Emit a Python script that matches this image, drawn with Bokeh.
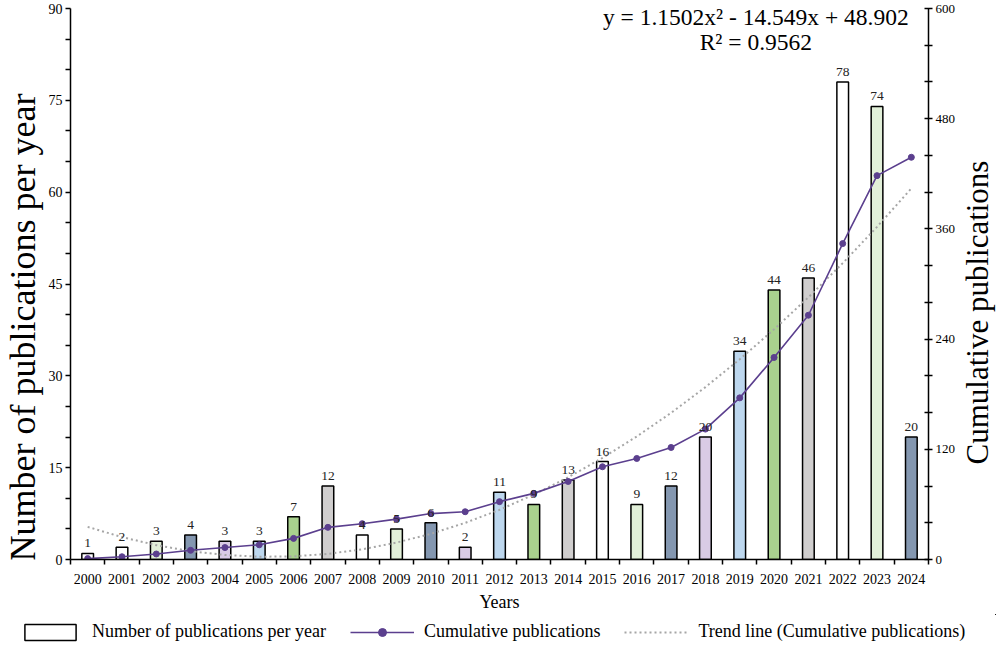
import math
from bokeh.plotting import figure
from bokeh.layouts import row
from bokeh.models import (ColumnDataSource, Range1d, LinearAxis, FixedTicker, Label,
                          Legend, LegendItem, LabelSet)
from bokeh.embed import file_html
from bokeh.resources import INLINE

# ---------------- data ----------------
years = list(range(2000, 2025))
pubs = [1, 2, 3, 4, 3, 3, 7, 12, 4, 5, 6, 2, 11, 9, 13, 16, 9, 12, 20, 34, 44, 46, 78, 74, 20]
cumulative = [1, 3, 6, 10, 13, 16, 23, 35, 39, 44, 50, 52, 63, 72, 85, 101, 110, 122, 142,
              176, 220, 266, 344, 418, 438]
trend = [35.5, 24.4, 15.6, 9.1, 4.9, 3.0, 3.4, 6.1, 11.1, 18.4, 28.0, 39.9, 54.1, 70.7,
         89.5, 110.6, 134.0, 159.7, 187.7, 218.0, 250.6, 285.5, 322.7, 362.2, 404.1]
left_ticks = [0, 15, 30, 45, 60, 75, 90]
left_minor = [5, 10, 20, 25, 35, 40, 50, 55, 65, 70, 80, 85]
right_ticks = [0, 120, 240, 360, 480, 600]
right_minor = [40, 80, 160, 200, 280, 320, 400, 440, 520, 560]
left_title = "Number of publications per year"
right_title = "Cumulative publications"
equation_text = "y = 1.1502x\u00b2 - 14.549x + 48.902"
r2_text = "R\u00b2 = 0.9562"

# ---------------- styles ----------------
WHITE, LGREEN, SLATE, LAV, LBLUE, GREEN, GRAY = ("#ffffff", "#e2f0d9", "#8497b0", "#d9cbe5",
                                                 "#bdd7ee", "#a9d18e", "#d0cece")
bar_colors = [WHITE, WHITE, LGREEN, SLATE, LAV, LBLUE, GREEN, GRAY,
              WHITE, LGREEN, SLATE, LAV, LBLUE, GREEN, GRAY,
              WHITE, LGREEN, SLATE, LAV, LBLUE, GREEN, GRAY,
              WHITE, LGREEN, SLATE]
FONT = "Liberation Serif"
PURPLE = "#5b3f8e"
TREND_C = "#a6a6a6"
Y_END, CUM_END = 91.307, 608.71
H_MAIN, B_BOTTOM = 614, 55


def add_series(fig):
    b = fig.vbar(x="year", top="pubs", width=0.34, source=src, fill_color="color",
                 line_color="black", line_width=1.5)
    t = fig.line(x="year", y="trend", source=src, y_range_name="cum",
                 line_color=TREND_C, line_width=2, line_dash="2 3")
    cl = fig.line(x="year", y="cum", source=src, y_range_name="cum",
                  line_color=PURPLE, line_width=1.6)
    cp = fig.scatter(x="year", y="cum", source=src, y_range_name="cum", size=6,
                     fill_color=PURPLE, line_color=PURPLE)
    return b, t, cl, cp


def side_figure(width):
    f = figure(width=width, height=H_MAIN, x_range=Range1d(0, 1), y_range=Range1d(0, Y_END),
               output_backend="svg", toolbar_location=None,
               x_axis_location=None, y_axis_location=None,
               min_border_left=0, min_border_right=0, min_border_top=0,
               min_border_bottom=B_BOTTOM)
    f.grid.visible = False
    f.outline_line_color = None
    return f


src = ColumnDataSource(dict(year=years, pubs=pubs, cum=cumulative, trend=trend,
                            color=bar_colors, label=[str(v) for v in pubs]))

p = figure(width=914, height=H_MAIN, x_range=Range1d(1999.5, 2024.5), y_range=Range1d(0, Y_END),
           output_backend="svg", toolbar_location=None,
           min_border_left=26, min_border_right=26, min_border_top=0, min_border_bottom=B_BOTTOM)
p.outline_line_color = None
p.xgrid.grid_line_color = None
p.ygrid.grid_line_color = None
p.extra_y_ranges = {"cum": Range1d(0, CUM_END)}
add_series(p)

p.add_layout(LabelSet(x="year", y="pubs", text="label", source=src, y_offset=6,
                      text_align="center", text_baseline="bottom", text_font=FONT,
                      text_font_size="13.5px", text_color="#222222"))

# ---- axes ----
xa = p.xaxis[0]
xa.ticker = FixedTicker(ticks=years, minor_ticks=[y - 0.5 for y in years] + [years[-1] + 0.5])
xa.major_tick_out = 0
xa.major_tick_in = 0
xa.minor_tick_out = 5
xa.minor_tick_in = 0
xa.minor_tick_line_color = "black"
xa.minor_tick_line_width = 1.5
xa.axis_line_width = 1.5
xa.axis_line_color = "black"
xa.major_label_standoff = 9
xa.major_label_text_font = FONT
xa.major_label_text_font_size = "14px"
xa.major_label_text_color = "black"
xa.axis_label = "Years"
xa.axis_label_text_font = FONT
xa.axis_label_text_font_size = "18px"
xa.axis_label_text_font_style = "normal"
xa.axis_label_text_color = "black"
xa.axis_label_standoff = 5

ya = p.yaxis[0]
ya.ticker = FixedTicker(ticks=left_ticks, minor_ticks=left_minor)
ya.bounds = (0, 90)
ya.major_tick_out = 5
ya.major_tick_in = 0
ya.minor_tick_out = 5
ya.minor_tick_in = 0
ya.minor_tick_line_color = "black"
ya.major_tick_line_width = 1.5
ya.minor_tick_line_width = 1.5
ya.axis_line_width = 1.5
ya.axis_line_color = "black"
ya.major_label_standoff = 3
ya.major_label_text_font = FONT
ya.major_label_text_font_size = "14px"
ya.major_label_text_color = "black"

ra = LinearAxis(y_range_name="cum", ticker=FixedTicker(ticks=right_ticks, minor_ticks=right_minor))
ra.bounds = (0, 600)
ra.major_tick_out = 4
ra.major_tick_in = 4
ra.minor_tick_out = 4
ra.minor_tick_in = 4
ra.minor_tick_line_color = "black"
ra.major_tick_line_width = 1.5
ra.minor_tick_line_width = 1.5
ra.axis_line_width = 1.5
ra.axis_line_color = "black"
ra.major_label_standoff = 3
ra.major_label_text_font = FONT
ra.major_label_text_font_size = "13px"
ra.major_label_text_color = "black"
p.add_layout(ra, "right")

# ---- equation ----
p.add_layout(Label(x=2019.47, y=88.69, text=equation_text, text_align="center",
                   text_baseline="middle", text_font=FONT, text_font_size="23.5px",
                   text_color="black"))
p.add_layout(Label(x=2019.47, y=84.45, text=r2_text, text_align="center",
                   text_baseline="middle", text_font=FONT, text_font_size="23.5px",
                   text_color="black"))

# ---- axis titles in narrow side strips (both read bottom-to-top) ----
left_side = side_figure(44)
left_side.add_layout(Label(x=0.5, y=37.9, text=left_title, angle=math.pi / 2,
                           text_align="center", text_baseline="middle", text_font=FONT,
                           text_font_size="36px", text_color="black"))
right_side = side_figure(38)
right_side.add_layout(Label(x=0.5, y=40.34, text=right_title, angle=math.pi / 2,
                            text_align="center", text_baseline="middle", text_font=FONT,
                            text_font_size="31px", text_color="black"))

# ---- legend (separate strip; series drawn off-view, only the legend is visible) ----
lg = figure(width=996, height=36, x_range=Range1d(0, 1), y_range=Range1d(-2, -1),
            output_backend="svg", toolbar_location=None,
            x_axis_location=None, y_axis_location=None,
            min_border_left=0, min_border_right=0, min_border_top=0, min_border_bottom=0)
lg.extra_y_ranges = {"cum": Range1d(-2, -1)}
lg.grid.visible = False
lg.outline_line_color = None
r_bar, r_tr, r_cl, r_cp = add_series(lg)
legend = Legend(items=[
    LegendItem(label="Number of publications per year", renderers=[r_bar]),
    LegendItem(label="Cumulative publications", renderers=[r_cl, r_cp]),
    LegendItem(label="Trend line (Cumulative publications)", renderers=[r_tr]),
], orientation="horizontal", location=(18, 8))
legend.glyph_width = 64
legend.glyph_height = 20
legend.label_standoff = 10
legend.spacing = 24
legend.padding = 0
legend.margin = 0
legend.border_line_alpha = 0
legend.background_fill_alpha = 0
legend.label_text_font = FONT
legend.label_text_font_size = "18px"
legend.label_text_color = "black"
lg.add_layout(legend)

top = row(left_side, p, right_side, spacing=0)
open("out.html", "w").write(file_html([top, lg], INLINE))
